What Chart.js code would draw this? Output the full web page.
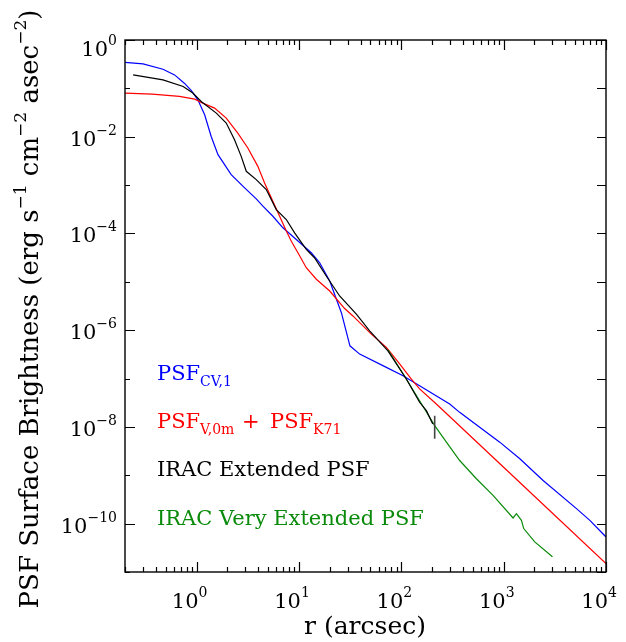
<!DOCTYPE html>
<html>
<head>
<meta charset="utf-8">
<script src="https://cdn.jsdelivr.net/npm/chart.js@4.4.1/dist/chart.umd.min.js"></script>
<style>
  html, body { margin: 0; padding: 0; background: #fff; }
</style>
</head>
<body>
<canvas id="graph" width="626" height="642"></canvas>
<script>
// -------------------------
// DATA
// -------------------------
const blueR = [0.2, 0.3, 0.47, 0.61, 0.76, 0.89, 1.03, 1.2, 1.39, 1.62, 2.18, 2.95, 3.83, 4.45, 5.57, 6.98, 9.43, 13.2, 15.9, 20.0, 23.2, 26.0, 31.5, 39.2, 71.5, 104, 151, 297, 372, 916, 1440, 2430, 5150, 6950, 10000];
const blueF = [0.345, 0.32, 0.249, 0.19, 0.128, 0.09, 0.058, 0.0284, 0.0101, 0.00425, 0.00164, 8.75e-4, 5.2e-4, 3.66e-4, 2.27e-4, 1.31e-4, 7.5e-5, 4.0e-5, 2.5e-5, 1.04e-5, 4.4e-6, 2.3e-6, 4.75e-7, 3.2e-7, 1.7e-7, 1.14e-7, 7.1e-8, 2.98e-8, 2.0e-8, 4.84e-9, 2.19e-9, 7.8e-10, 2.04e-10, 1.17e-10, 5.3e-11];

const redR = [0.2, 0.37, 0.68, 0.96, 1.15, 1.5, 1.95, 2.53, 3.17, 3.97, 4.62, 5.37, 6.48, 7.53, 8.43, 9.78, 11.8, 14.8, 20.0, 28.0, 33.7, 51, 71.5, 96.4, 125, 151, 220, 1440, 10000];
const redF = [0.08, 0.076, 0.068, 0.06, 0.0495, 0.039, 0.0243, 0.0119, 0.00585, 0.00244, 0.00111, 5.45e-4, 2.27e-4, 1.12e-4, 6.9e-5, 4.0e-5, 1.96e-5, 1.13e-5, 6.46e-6, 2.8e-6, 1.97e-6, 8.3e-7, 4.4e-7, 2.0e-7, 9.8e-8, 6.1e-8, 2.98e-8, 7.1e-10, 1.5e-11];

const blackR = [0.24, 0.47, 0.74, 0.92, 1.11, 1.56, 1.95, 2.35, 2.73, 3.06, 3.83, 4.8, 6.01, 7.53, 9.08, 11.8, 14.2, 18.5, 25, 36.4, 49.1, 74.1, 112, 151, 176, 203];
const blackF = [0.19, 0.15, 0.109, 0.08, 0.0535, 0.0308, 0.0192, 0.00867, 0.00392, 0.00193, 0.0013, 8.07e-4, 3.12e-4, 1.94e-4, 1.03e-4, 4.68e-5, 3.15e-5, 1.32e-5, 5.09e-6, 2.14e-6, 9.7e-7, 3.74e-7, 9.8e-8, 3.23e-8, 2.17e-8, 1.15e-8];

const greenR = [74.1, 112, 151, 212, 276, 372, 542, 788, 1236, 1334, 1492, 1571, 2013, 3000];
const greenF = [3.93e-7, 9.8e-8, 3.48e-8, 1.06e-8, 4.84e-9, 2.02e-9, 8.47e-10, 3.84e-10, 1.31e-10, 1.61e-10, 1.17e-10, 7.9e-11, 4.2e-11, 2.06e-11];

// vertical bar at the end of the extended PSF
const barR = [212, 212];
const barF = [1.71e-8, 5.66e-9];

// axis tick labels (exponents of ten)
const xTickExp = [0, 1, 2, 3, 4];
const yTickExp = [0, -2, -4, -6, -8, -10];

const X_MIN = 0.2, X_MAX = 1e4;
const Y_MIN = 1e-11, Y_MAX = 1;

const FONT = '"DejaVu Serif", serif';
const BLUE = "#0000ff", RED = "#ff0000", GREEN = "#0a8a0a";

function pts(xs, ys) {
  return xs.map((x, i) => ({ x: x, y: ys[i] }));
}

function line(data, color, order, width) {
  return {
    data: data,
    borderColor: color,
    borderWidth: width || 1.2,
    pointRadius: 0,
    showLine: true,
    fill: false,
    tension: 0,
    order: order
  };
}

// -------------------------
// text helpers
// -------------------------
function minus(e) {
  return e < 0 ? "\u2212" + Math.abs(e) : String(e);
}

function drawParts(ctx, parts, x, y) {
  // parts: [text, size, dy, color]
  parts.forEach(p => {
    ctx.font = p[1] + "px " + FONT;
    ctx.fillStyle = p[3] || "#000";
    ctx.fillText(p[0], x, y + (p[2] || 0));
    x += ctx.measureText(p[0]).width;
  });
  return x;
}

function partsWidth(ctx, parts) {
  let w = 0;
  parts.forEach(p => {
    ctx.font = p[1] + "px " + FONT;
    w += ctx.measureText(p[0]).width;
  });
  return w;
}

// -------------------------
// frame, inward ticks and labels
// -------------------------
const idlFrame = {
  id: "idlFrame",
  afterDraw(chart) {
    const ctx = chart.ctx;
    const a = chart.chartArea;
    const xs = chart.scales.x, ys = chart.scales.y;

    ctx.save();
    ctx.strokeStyle = "#000";
    ctx.lineWidth = 1.4;
    ctx.strokeRect(a.left, a.top, a.right - a.left, a.bottom - a.top);

    ctx.lineWidth = 1.2;
    ctx.beginPath();
    // x ticks, top and bottom
    for (let k = -1; k <= 4; k++) {
      for (let m = 1; m <= 9; m++) {
        const v = m * Math.pow(10, k);
        if (v < X_MIN || v > X_MAX) continue;
        const px = Math.round(xs.getPixelForValue(v)) + 0.5;
        const len = m === 1 ? 10 : 5;
        ctx.moveTo(px, a.bottom);
        ctx.lineTo(px, a.bottom - len);
        ctx.moveTo(px, a.top);
        ctx.lineTo(px, a.top + len);
      }
    }
    // y ticks, left and right
    for (let e = -11; e <= 0; e++) {
      const py = Math.round(ys.getPixelForValue(Math.pow(10, e))) + 0.5;
      const len = e % 2 === 0 ? 10 : 5;
      ctx.moveTo(a.left, py);
      ctx.lineTo(a.left + len, py);
      ctx.moveTo(a.right, py);
      ctx.lineTo(a.right - 9, py);
    }
    ctx.stroke();

    ctx.textBaseline = "alphabetic";
    ctx.textAlign = "left";

    // y tick labels
    yTickExp.forEach(e => {
      const py = ys.getPixelForValue(Math.pow(10, e));
      const parts = [["10", 21, 0], [minus(e), 14, -11]];
      const w = partsWidth(ctx, parts);
      const base = Math.max(py + 9, a.top + 16);
      drawParts(ctx, parts, 117 - w, base);
    });

    // x tick labels
    xTickExp.forEach(e => {
      const px = xs.getPixelForValue(Math.pow(10, e));
      ctx.font = "21px " + FONT;
      const w10 = ctx.measureText("10").width;
      drawParts(ctx, [["10", 21, 0], [minus(e), 14, -11]], px + 2 - w10, a.bottom + 36);
    });

    // x title
    ctx.font = "25px " + FONT;
    ctx.textAlign = "center";
    ctx.fillStyle = "#000";
    ctx.fillText("r (arcsec)", 365, 634);
    ctx.textAlign = "left";

    // y title, rotated
    const yParts = [
      ["PSF Surface Brightness (erg s", 26, 0],
      ["\u22121", 17, -12],
      [" cm", 26, 0],
      ["\u22122", 17, -12],
      [" asec", 26, 0],
      ["\u22122", 17, -12],
      [")", 26, 0]
    ];
    ctx.save();
    ctx.translate(38, 309);
    ctx.rotate(-Math.PI / 2);
    const tw = partsWidth(ctx, yParts);
    drawParts(ctx, yParts, -tw / 2, 0);
    ctx.restore();

    // legend text
    drawParts(ctx, [["PSF", 21, 0, BLUE], ["CV,1", 14, 6, BLUE]], 157, 380);
    drawParts(ctx, [["PSF", 21, 0, RED], ["V,0m", 14, 6, RED]], 157, 428);
    drawParts(ctx, [["+", 21, 0, RED]], 242, 428);
    drawParts(ctx, [["PSF", 21, 0, RED], ["K71", 14, 6, RED]], 270, 428);
    drawParts(ctx, [["IRAC Extended PSF", 21, 0, "#000"]], 157, 476);
    drawParts(ctx, [["IRAC Very Extended PSF", 21, 0, GREEN]], 157, 525);

    ctx.restore();
  }
};

// -------------------------
// INIT CHART
// -------------------------
function initChart() {
  const ctx = document.getElementById("graph").getContext("2d");

  new Chart(ctx, {
    type: "scatter",
    data: {
      datasets: [
        line(pts(barR, barF), "#444", 0, 1.6),
        line(pts(blackR, blackF), "#000", 1),
        line(pts(greenR, greenF), GREEN, 2),
        line(pts(redR, redF), RED, 3),
        line(pts(blueR, blueF), BLUE, 4)
      ]
    },
    options: {
      responsive: false,
      animation: false,
      devicePixelRatio: 1,
      layout: { padding: { left: 125, right: 20, top: 40, bottom: 70 } },
      plugins: {
        legend: { display: false },
        tooltip: { enabled: false }
      },
      scales: {
        x: {
          type: "logarithmic",
          display: false,
          min: X_MIN,
          max: X_MAX
        },
        y: {
          type: "logarithmic",
          display: false,
          min: Y_MIN,
          max: Y_MAX
        }
      }
    },
    plugins: [idlFrame]
  });
}

initChart();
</script>
</body>
</html>
